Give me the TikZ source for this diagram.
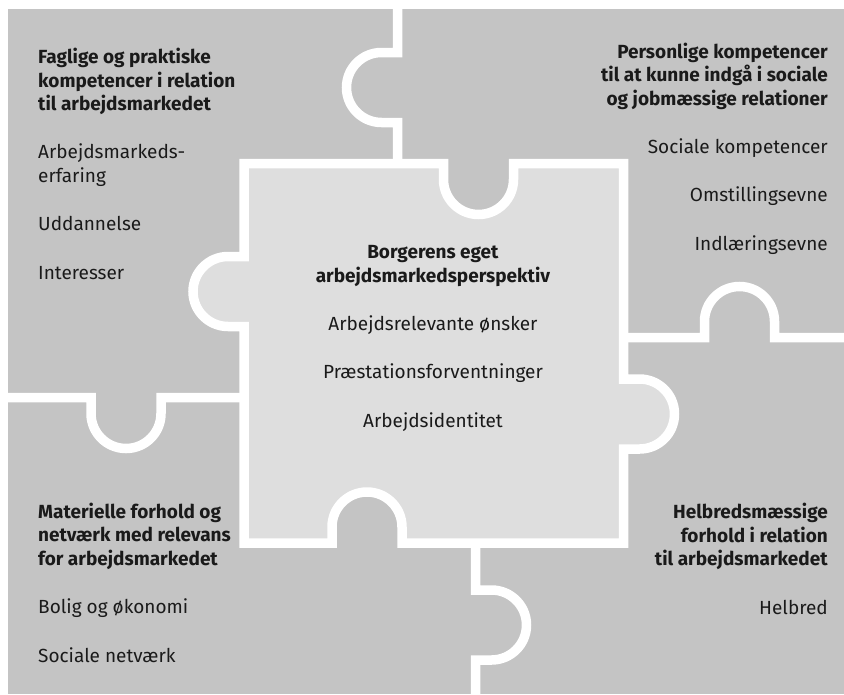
\documentclass[tikz,border=0pt]{standalone}
\usepackage{fontspec}
\setmainfont{Fira Sans}
\usepackage{tikz}
\usetikzlibrary{positioning}
\definecolor{pieceGrey}{HTML}{C4C4C4}
\definecolor{centreGrey}{HTML}{DEDEDE}
\definecolor{inkGrey}{HTML}{1A1A1A}

% knob on a horizontal seam: centre x, seam y, signed half width, signed depth
\newcommand{\knobv}[4]{%
  -- ({#1-(#3)},#2) -- ({#1-(#3)},{#2+16*(#4)})
  .. controls ({#1-(#3)},{#2+35.3*(#4)}) and ({#1-0.552*(#3)},{#2+51*(#4)}) .. ({#1},{#2+51*(#4)})
  .. controls ({#1+0.552*(#3)},{#2+51*(#4)}) and ({#1+(#3)},{#2+35.3*(#4)}) .. ({#1+(#3)},{#2+16*(#4)})
  -- ({#1+(#3)},#2)}
% knob on a vertical seam: seam x, centre y, signed half width, signed depth
\newcommand{\knobh}[4]{%
  -- (#1,{#2-(#3)}) -- ({#1+16*(#4)},{#2-(#3)})
  .. controls ({#1+35.3*(#4)},{#2-(#3)}) and ({#1+51*(#4)},{#2-0.552*(#3)}) .. ({#1+51*(#4)},#2)
  .. controls ({#1+51*(#4)},{#2+0.552*(#3)}) and ({#1+35.3*(#4)},{#2+(#3)}) .. ({#1+16*(#4)},{#2+(#3)})
  -- (#1,{#2+(#3)})}

\begin{document}
\begin{tikzpicture}[
  x=1pt, y=-1pt,
  seam/.style={draw=white, line width=9.5pt},
  block/.style={text=inkGrey, inner sep=0pt, font=\fontsize{19}{23.7}\selectfont}
]
\useasboundingbox (0,0) rectangle (844,694);
% the four outer pieces share one grey
\fill[pieceGrey] (8,9) rectangle (844,694);
% centre piece
\filldraw[fill=centreGrey, seam] (244,163.5) \knobv{478.5}{163.5}{35}{1} -- (623.5,163.5)
  \knobh{623.5}{414}{35}{1} -- (623.5,543)
  \knobv{367}{543}{-35}{-1} -- (244,543)
  \knobh{244}{291.5}{-35}{-1} -- cycle;
% seams between the outer pieces
\draw[seam] (397.5,0) \knobh{397.5}{87.5}{35}{-1} -- (397.5,163.5);
\draw[seam] (0,397.5) \knobv{126}{397.5}{35}{1} -- (244,397.5);
\draw[seam] (623.5,337.5) \knobv{739.5}{337.5}{35}{-1} -- (850,337.5);
\draw[seam] (475.5,543) \knobh{475.5}{625}{35}{1} -- (475.5,700);

% texts, placed by the baseline of their last line
\node[block, align=left, anchor=base west] (faglige) at (38,279)
  {\textbf{Faglige og praktiske}\\ \textbf{kompetencer i relation}\\ \textbf{til arbejdsmarkedet}\\[24.5pt]
   Arbejdsmarkeds-\\ erfaring\\[24.5pt] Uddannelse\\[24.5pt] Interesser};
\node[block, align=right, anchor=base east] (personlige) at (828,250)
  {\textbf{Personlige kompetencer}\\ \textbf{til at kunne indgå i sociale}\\ \textbf{og jobmæssige relationer}\\[24.5pt]
   Sociale kompetencer\\[24.5pt] Omstillingsevne\\[24.5pt] Indlæringsevne};
\node[block, align=center, anchor=base] (borger) at (433,427)
  {\textbf{Borgerens eget}\\ \textbf{arbejdsmarkedsperspektiv}\\[24.5pt]
   Arbejdsrelevante ønsker\\[24.5pt] Præstationsforventninger\\[24.5pt] Arbejdsidentitet};
\node[block, align=left, anchor=base west] (materielle) at (38,662)
  {\textbf{Materielle forhold og}\\ \textbf{netværk med relevans}\\ \textbf{for arbejdsmarkedet}\\[24.5pt]
   Bolig og økonomi\\[24.5pt] Sociale netværk};
\node[block, align=right, anchor=base east] (helbred) at (828,614)
  {\textbf{Helbredsmæssige}\\ \textbf{forhold i relation}\\ \textbf{til arbejdsmarkedet}\\[24.5pt]
   Helbred};
\end{tikzpicture}
\end{document}
